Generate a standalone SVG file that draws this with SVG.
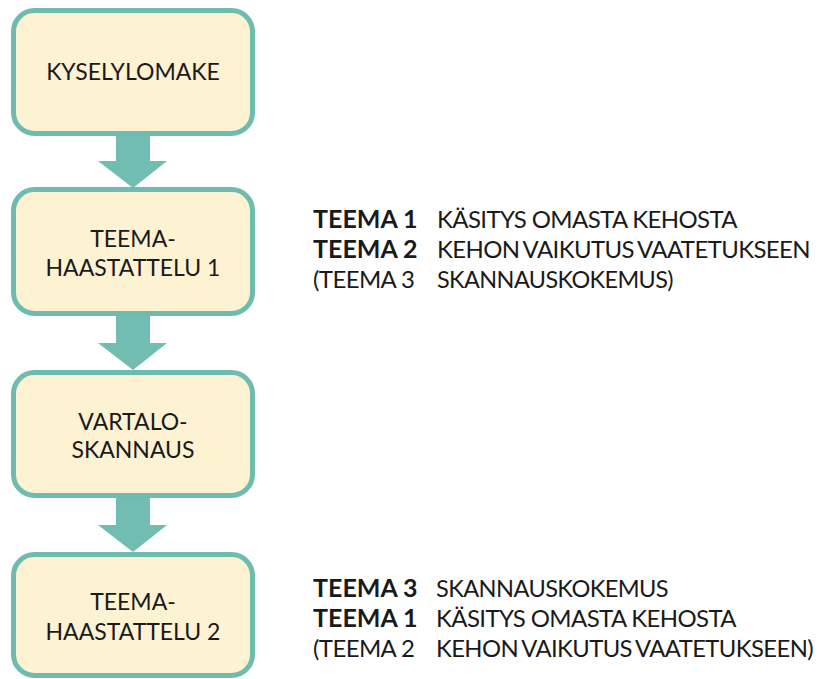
<svg xmlns="http://www.w3.org/2000/svg" width="833" height="679" viewBox="0 0 833 679">
<style>
.box{fill:#fdf2d2;stroke:#6fbbb0;stroke-width:5}
.arr{fill:#72bdb2}
.t{font-family:Lato,"Open Sans",sans-serif;font-size:23px;fill:#1a1a1a;text-anchor:middle}
.r{font-family:Lato,"Open Sans",sans-serif;font-size:25px;fill:#1a1a1a}
.d{font-family:Lato,"Open Sans",sans-serif;font-size:24px;letter-spacing:-0.6px;fill:#1a1a1a}
.w{word-spacing:-1.5px}
.b{font-weight:bold}
</style>
<rect width="833" height="679" fill="#ffffff"/>
<g id="connectors">
<polygon class="arr" points="116,134 150,134 150,161 167,161 133,188 98,161 116,161"/>
<polygon class="arr" points="116,314 150,314 150,343 167,343 133,370 98,343 116,343"/>
<polygon class="arr" points="116,496 150,496 150,525 167,525 133,552 98,525 116,525"/>
</g>
<g id="kyselylomake">
<rect class="box" x="13.5" y="10.5" width="239" height="123" rx="21"/>
<text class="t" x="133" y="80">KYSELYLOMAKE</text>
</g>
<g id="teemahaastattelu1">
<rect class="box" x="13.5" y="189.5" width="239" height="124" rx="21"/>
<text class="t" x="133" y="247">TEEMA-</text>
<text class="t" x="133" y="276">HAASTATTELU 1</text>
</g>
<g id="vartaloskannaus">
<rect class="box" x="13.5" y="372.5" width="239" height="123" rx="21"/>
<text class="t" x="133" y="430">VARTALO-</text>
<text class="t" x="133" y="458">SKANNAUS</text>
</g>
<g id="teemahaastattelu2">
<rect class="box" x="13.5" y="554.5" width="239" height="121" rx="21"/>
<text class="t" x="133" y="610">TEEMA-</text>
<text class="t" x="133" y="640">HAASTATTELU 2</text>
</g>
<g id="teemat1">
<text class="r b" x="313" y="228">TEEMA 1</text>
<text class="d" x="437" y="228" textLength="300" lengthAdjust="spacingAndGlyphs">KÄSITYS OMASTA KEHOSTA</text>
<text class="r b" x="313" y="258">TEEMA 2</text>
<text class="d w" x="437" y="258" textLength="373" lengthAdjust="spacingAndGlyphs">KEHON VAIKUTUS VAATETUKSEEN</text>
<text class="d" x="313" y="288">(TEEMA 3</text>
<text class="d" x="437" y="288" textLength="236" lengthAdjust="spacingAndGlyphs">SKANNAUSKOKEMUS)</text>
</g>
<g id="teemat2">
<text class="r b" x="313" y="597">TEEMA 3</text>
<text class="d" x="436" y="597" textLength="232" lengthAdjust="spacingAndGlyphs">SKANNAUSKOKEMUS</text>
<text class="r b" x="313" y="627">TEEMA 1</text>
<text class="d" x="436" y="627" textLength="300" lengthAdjust="spacingAndGlyphs">KÄSITYS OMASTA KEHOSTA</text>
<text class="d" x="313" y="657">(TEEMA 2</text>
<text class="d w" x="436" y="657" textLength="377" lengthAdjust="spacingAndGlyphs">KEHON VAIKUTUS VAATETUKSEEN)</text>
</g>
</svg>
